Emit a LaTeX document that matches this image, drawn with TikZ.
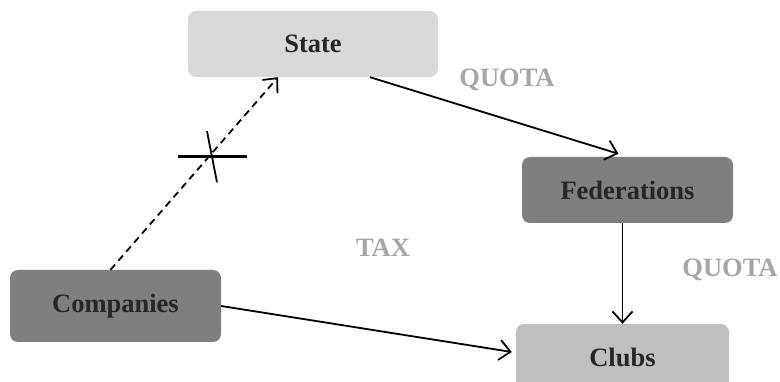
\documentclass[tikz,border=0pt]{standalone}
\usepackage{fontspec}
\setmainfont{Liberation Serif}
\usepackage{tikz}
\usetikzlibrary{positioning,arrows.meta,calc}
\definecolor{lightbox}{HTML}{D9D9D9}
\definecolor{midbox}{HTML}{BFBFBF}
\definecolor{darkbox}{HTML}{7F7F7F}
\definecolor{boxtext}{HTML}{262626}
\definecolor{flowtext}{HTML}{A6A6A6}

\begin{document}
\begin{tikzpicture}[
  x=1pt, y=-1pt,
  box/.style={rounded corners=8pt, inner sep=0pt, minimum width=211pt,
    minimum height=66pt, text=boxtext,
    font=\fontsize{26.5}{30}\selectfont\bfseries},
  flow/.style={text=flowtext, font=\fontsize{26.5}{30}\selectfont\bfseries},
  link/.style={line width=1.8pt, -{Straight Barb[length=11pt,width=20pt,line width=1.8pt]}}
]
  \useasboundingbox (0,0) rectangle (780,382);

  % actors
  \node[box, fill=lightbox, minimum width=250pt] (state) at (313,44)    {State};
  \node[box, fill=darkbox]                       (fed)   at (627.5,190) {Federations};
  \node[box, fill=darkbox, minimum height=72pt]  (comp)  at (115.5,306) {Companies};
  \node[box, fill=midbox, minimum width=213pt]   (clubs) at (622.5,357) {Clubs};

  % money flows
  \draw[link] ([xshift=57pt]state.south) -- ([xshift=-9pt,yshift=3pt]fed.north);
  \draw[link] (fed.south -| clubs.north) -- (clubs.north);
  \draw[link] (comp.east) -- ([xshift=-4pt,yshift=5pt]clubs.west);
  \draw[link, dash pattern=on 7pt off 5pt]
    ([xshift=-5pt]comp.north) -- coordinate[pos=0.6] (cut) ([xshift=-35pt]state.south);

  % --- blocked flow mark
  \draw[line width=3pt] ($(cut)+(-33,2)$) -- ($(cut)+(36,2)$);
  \draw[line width=1.8pt] ($(cut)+(-4,-23)$) -- ($(cut)+(6,28)$);

  % labels
  \node[flow] (quotaA) at (507,80)  {QUOTA};
  \node[flow] (tax)    at (383,248) {TAX};
  \node[flow] (quotaB) at (730,270) {QUOTA};
\end{tikzpicture}
\end{document}
